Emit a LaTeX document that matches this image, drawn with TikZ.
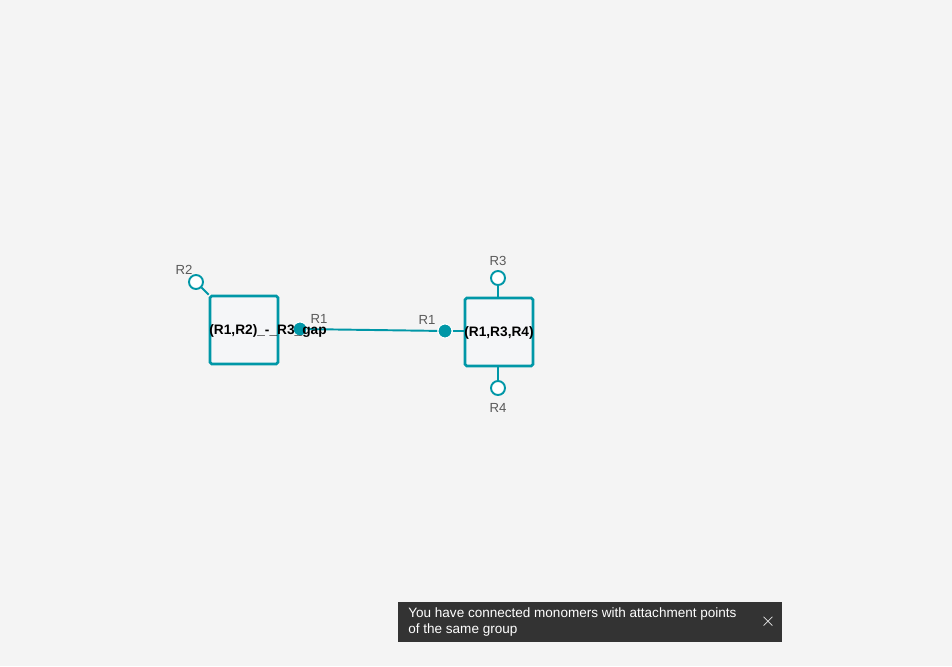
\documentclass[tikz,border=0pt]{standalone}
\usepackage{fontspec}
\setmainfont{Liberation Sans}
\definecolor{hlteal}{RGB}{0,151,167}
\definecolor{hlbg}{RGB}{244,244,244}
\definecolor{hlbox}{RGB}{245,246,248}
\definecolor{hlgrey}{RGB}{90,90,90}
\definecolor{hltoast}{RGB}{51,51,51}
\usetikzlibrary{positioning,calc}
\tikzset{
  monomer/.style={draw=hlteal, fill=hlbox, line width=1.5pt, rounded corners=1pt, minimum size=1.36cm, inner sep=0pt},
  freeap/.style={circle, draw=hlteal, fill=white, line width=1.1pt, minimum size=0.28cm, inner sep=0pt},
  usedap/.style={circle, draw=white, fill=hlteal, line width=0.6pt, minimum size=0.28cm, inner sep=0pt},
  aplabel/.style={font=\fontsize{7.5}{9}\selectfont, text=hlgrey, inner sep=0pt},
  monolabel/.style={font=\bfseries\fontsize{7.8}{9}\selectfont, inner sep=0pt},
  stub/.style={draw=hlteal, line width=1.1pt},
}
\begin{document}
\begin{tikzpicture}[x=0.02cm, y=-0.02cm]
  % canvas
  \fill[hlbg] (0,0) rectangle (952,666);
  \useasboundingbox (0,0) rectangle (952,666);

  % left monomer
  \node[monomer] (mleft) at (244,330) {};
  \node[freeap] (leftR2) at (196,282) {};
  \draw[stub] (leftR2) -- (mleft.north west);
  \node[aplabel] (leftR2lbl) at (184,270) {R2};
  \node[usedap] (leftR1) at (300,329) {};
  \node[aplabel] (leftR1lbl) at (319,319) {R1};

  % right monomer
  \node[monomer] (mright) at (499,332) {};
  \node[usedap] (rightR1) at (445,331) {};
  \draw[stub] (rightR1) -- (rightR1 -| mright.west);
  \node[aplabel] (rightR1lbl) at (427,320) {R1};
  \node[freeap] (rightR3) at (498,278) {};
  \draw[stub] (rightR3) -- (rightR3 |- mright.north);
  \node[aplabel] (rightR3lbl) at (498,261) {R3};
  \node[freeap] (rightR4) at (498,388) {};
  \draw[stub] (rightR4) -- (rightR4 |- mright.south);
  \node[aplabel] (rightR4lbl) at (498,408) {R4};

  % bond
  \draw[stub] (leftR1) -- (rightR1);
  \node[usedap] at (leftR1) {};
  \node[usedap] at (rightR1) {};

  % monomer names
  \node[monolabel] (leftname) at (268,331) {(R1,R2)\_-\_R3\_gap};
  \node[monolabel] (rightname) at (499,333) {(R1,R3,R4)};

  % notification
  \fill[hltoast] (398,602) rectangle (782,642);
  \node[anchor=north west, align=left, text=white, inner sep=0pt,
        font=\fontsize{7.7}{9.2}\selectfont] (toast) at (408,607)
        {You have connected monomers with attachment points\\of the same group};
  \node[text=white, inner sep=0pt, font=\fontsize{11}{11}\selectfont] (toastclose) at (768,622) {$\times$};
\end{tikzpicture}
\end{document}
